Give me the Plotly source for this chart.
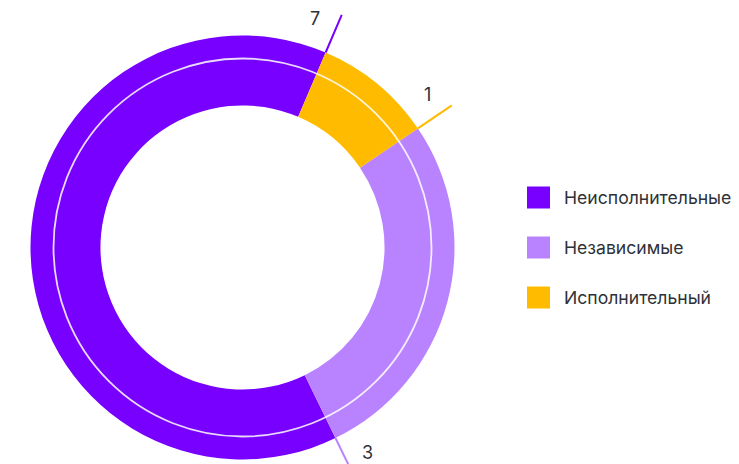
import math
import plotly.graph_objects as go

categories = ["Неисполнительные", "Независимые", "Исполнительный"]
values = [7, 3, 1]
colors = ["#7700FF", "#B983FF", "#FFBB00"]

W, H = 739, 464
CX, CY = 242.5, 247.5   # pie centre in pixels (from top-left)
R = 212                 # outer radius in pixels
HOLE = 0.67
ROT = 154
FONT = "Inter, Roboto, sans-serif"
TXT = "#2E3138"


def px(x):
    return x / W


def py(y):
    return 1 - y / H


def polar(angle_deg, r):
    a = math.radians(angle_deg)
    return CX + r * math.sin(a), CY - r * math.cos(a)


fig = go.Figure(go.Pie(
    labels=categories,
    values=values,
    marker=dict(colors=colors, line=dict(width=0)),
    hole=HOLE,
    sort=False,
    direction="counterclockwise",
    rotation=ROT,
    textinfo="none",
    hoverinfo="label+value",
    showlegend=False,
    domain=dict(x=[px(CX - R), px(CX + R)], y=[py(CY + R), py(CY - R)]),
))

shapes = []
annotations = []

# thin white ring inside the donut
rc = 189
shapes.append(dict(type="circle", xref="paper", yref="paper",
                   x0=px(CX - rc), x1=px(CX + rc), y0=py(CY + rc), y1=py(CY - rc),
                   line=dict(color="rgba(255,255,255,0.85)", width=1.8), layer="above"))

# leader lines + value labels at the clockwise end of each slice
total = sum(values)
k = 360.0 / total
cum = 0
for i, (cat, v, c) in enumerate(zip(categories, values, colors)):
    end_angle = ROT + values[0] * k - cum * k
    cum += v
    x0, y0 = polar(end_angle, R)
    x1, y1 = polar(end_angle, R + 41)
    shapes.append(dict(type="line", xref="paper", yref="paper",
                       x0=px(x0), y0=py(y0), x1=px(x1), y1=py(y1),
                       line=dict(color=c, width=2), layer="above"))
    lx, ly = polar(end_angle - 5.5, 240)
    annotations.append(dict(x=px(lx), y=py(ly), xref="paper", yref="paper",
                            text=str(v), showarrow=False,
                            xanchor="center", yanchor="middle",
                            font=dict(family=FONT, size=18, color=TXT)))

# legend
LX, LY0, DY, SQ = 527, 197.5, 50, 22
for i, (cat, c) in enumerate(zip(categories, colors)):
    yc = LY0 + i * DY
    shapes.append(dict(type="rect", xref="paper", yref="paper",
                       x0=px(LX), x1=px(LX + SQ + 1), y0=py(yc + SQ / 2), y1=py(yc - SQ / 2),
                       fillcolor=c, line=dict(width=0)))
    annotations.append(dict(x=px(LX + 35), y=py(yc), xref="paper", yref="paper",
                            text=cat, showarrow=False,
                            xanchor="left", yanchor="middle",
                            font=dict(family=FONT, size=17.6, color=TXT)))

fig.update_layout(
    width=W, height=H,
    margin=dict(l=0, r=0, t=0, b=0),
    paper_bgcolor="white",
    plot_bgcolor="white",
    shapes=shapes,
    annotations=annotations,
    showlegend=False,
)

fig.write_html("out.html", config={"displayModeBar": False},
               post_script="document.body.style.margin='0';")
